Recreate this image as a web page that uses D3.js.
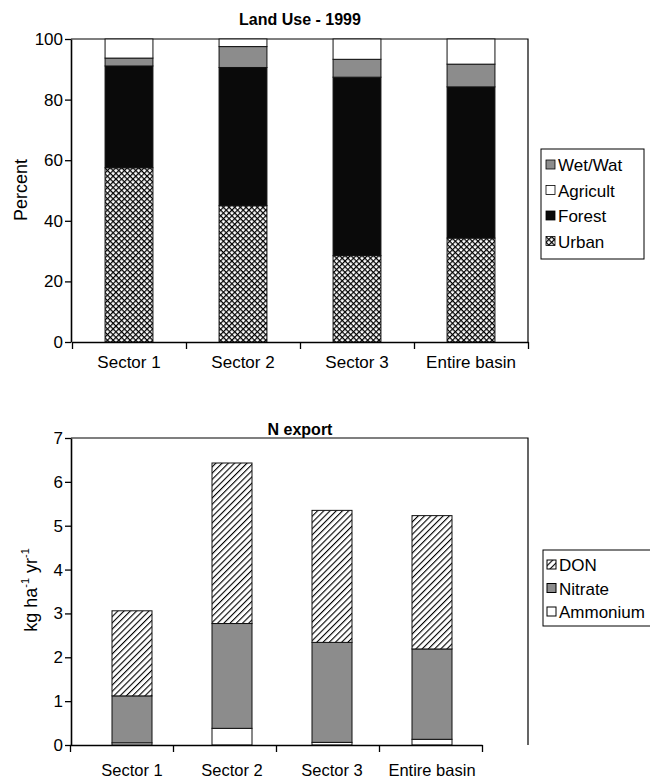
<!DOCTYPE html>
<html>
<head>
<meta charset="utf-8">
<script src="https://cdn.jsdelivr.net/npm/d3@7"></script>
<style>
  body { margin: 0; background: #fff; }
  text { font-family: "Liberation Sans", Arial, sans-serif; fill: #000; }
</style>
</head>
<body>
<script>
// chart data
var sectors = ["Sector 1", "Sector 2", "Sector 3", "Entire basin"];

var urban = [57.5, 45.0, 28.5, 34.3];
var forest = [33.6, 45.6, 58.9, 49.9];
var wetWat = [2.6, 6.9, 5.9, 7.5];
var agricult = [6.3, 2.5, 6.7, 8.3];

var ammonium = [0.05, 0.38, 0.06, 0.13];
var nitrate = [1.07, 2.39, 2.28, 2.06];
var don = [1.94, 3.66, 3.01, 3.04];

var percentTicks = [0, 20, 40, 60, 80, 100];
var exportTicks = [0, 1, 2, 3, 4, 5, 6, 7];

var width = 650, height = 781;
var fontFam = "'Liberation Sans', Arial, sans-serif";

var svg = d3.select("body").append("svg")
  .attr("width", width)
  .attr("height", height);

// fill patterns
var defs = svg.append("defs");
var cross = defs.append("pattern")
  .attr("id", "cross")
  .attr("patternUnits", "userSpaceOnUse")
  .attr("width", 4).attr("height", 4)
  .attr("patternTransform", "rotate(45)");
cross.append("rect").attr("width", 4).attr("height", 4).attr("fill", "#fff");
cross.append("path").attr("d", "M0,0V4M0,0H4").attr("stroke", "#000").attr("stroke-width", 2.4);

var hatch = defs.append("pattern")
  .attr("id", "hatch")
  .attr("patternUnits", "userSpaceOnUse")
  .attr("width", 4.4).attr("height", 4.4)
  .attr("patternTransform", "rotate(45)");
hatch.append("rect").attr("width", 4.4).attr("height", 4.4).attr("fill", "#fff");
hatch.append("path").attr("d", "M0,0V4.4").attr("stroke", "#000").attr("stroke-width", 2.2);

function stackRows(series) {
  return sectors.map(function (s, i) {
    var row = { sector: s };
    series.forEach(function (d) { row[d.key] = d.values[i]; });
    return row;
  });
}

// ---------- top chart: land use ----------
var landSeries = [
  { key: "Urban", values: urban, fill: "url(#cross)" },
  { key: "Forest", values: forest, fill: "#0a0a0a" },
  { key: "Wet/Wat", values: wetWat, fill: "#8c8c8c" },
  { key: "Agricult", values: agricult, fill: "#fff" }
];

var t = { left: 71, right: 528, top: 39, bottom: 342 };

var xTop = d3.scaleBand().domain(sectors).range([t.left + 1, t.right])
  .paddingInner(0.58).paddingOuter(0.29);
var xTopTicks = d3.scaleLinear().domain([0, 4]).range([t.left + 1, t.right]);
var yTop = d3.scaleLinear().domain([0, 100]).range([t.bottom, t.top]);

var topG = svg.append("g");

topG.append("path")
  .attr("d", "M" + t.left + "," + t.top + "H" + t.right + "V" + t.bottom)
  .attr("fill", "none").attr("stroke", "#000").attr("stroke-width", 1.2);

var landStack = d3.stack().keys(landSeries.map(function (d) { return d.key; }))(stackRows(landSeries));

topG.selectAll("g.layer").data(landStack).enter().append("g")
  .attr("fill", function (d, i) { return landSeries[i].fill; })
  .selectAll("rect").data(function (d) { return d; }).enter().append("rect")
  .attr("x", function (d) { return xTop(d.data.sector); })
  .attr("width", xTop.bandwidth())
  .attr("y", function (d) { return yTop(d[1]); })
  .attr("height", function (d) { return yTop(d[0]) - yTop(d[1]); })
  .attr("stroke", "#111").attr("stroke-width", 1);

topG.append("g")
  .attr("transform", "translate(" + t.left + ",0)")
  .call(d3.axisLeft(yTop).tickValues(percentTicks).tickSize(6).tickPadding(2).tickSizeOuter(0))
  .call(styleAxis);

topG.append("g")
  .attr("transform", "translate(0," + t.bottom + ")")
  .call(d3.axisBottom(xTopTicks).tickValues([0, 1, 2, 3, 4]).tickFormat("").tickSize(7).tickSizeOuter(0))
  .call(styleAxis);

topG.selectAll("text.xlab").data(sectors).enter().append("text")
  .attr("x", function (d) { return xTop(d) + xTop.bandwidth() / 2; })
  .attr("y", 368)
  .attr("text-anchor", "middle")
  .style("font-size", "17px")
  .text(function (d) { return d; });

svg.append("text")
  .attr("x", 300).attr("y", 25)
  .attr("text-anchor", "middle")
  .style("font-size", "16px").style("font-weight", "bold")
  .text("Land Use - 1999");

svg.append("text")
  .attr("transform", "translate(27,190) rotate(-90)")
  .attr("text-anchor", "middle")
  .style("font-size", "18px")
  .text("Percent");

// legend top
var leg1 = svg.append("g");
leg1.append("rect")
  .attr("x", 541).attr("y", 149).attr("width", 103).attr("height", 110)
  .attr("fill", "#fff").attr("stroke", "#000").attr("stroke-width", 1);
var leg1Items = landSeries.slice().reverse();
leg1Items = [leg1Items[1], leg1Items[0], leg1Items[2], leg1Items[3]];
leg1.selectAll("g.item").data(leg1Items).enter().append("g")
  .attr("transform", function (d, i) { return "translate(546," + (165 + i * 25.5) + ")"; })
  .each(function (d) {
    var g = d3.select(this);
    g.append("rect").attr("x", 0).attr("y", -5).attr("width", 9).attr("height", 9)
      .attr("fill", d.fill).attr("stroke", "#000").attr("stroke-width", 0.8);
    g.append("text").attr("x", 12).attr("y", 6).style("font-size", "17px").text(d.key);
  });

// ---------- bottom chart: N export ----------
var nSeries = [
  { key: "Ammonium", values: ammonium, fill: "#fff" },
  { key: "Nitrate", values: nitrate, fill: "#8c8c8c" },
  { key: "DON", values: don, fill: "url(#hatch)" }
];

var b = { left: 71, right: 528, axisRight: 482, top: 438, bottom: 745 };

var xBot = d3.scaleBand().domain(sectors).range([82, b.axisRight])
  .paddingInner(0.6).paddingOuter(0.3);
var xBotTicks = d3.scaleLinear().domain([0, 4]).range([b.left - 1, b.axisRight]);
var yBot = d3.scaleLinear().domain([0, 7]).range([b.bottom, b.top]);

var botG = svg.append("g");

botG.append("path")
  .attr("d", "M" + b.left + "," + b.top + "H" + b.right + "V" + b.bottom)
  .attr("fill", "none").attr("stroke", "#000").attr("stroke-width", 1.2);

var nStack = d3.stack().keys(nSeries.map(function (d) { return d.key; }))(stackRows(nSeries));

botG.selectAll("g.layer").data(nStack).enter().append("g")
  .attr("fill", function (d, i) { return nSeries[i].fill; })
  .selectAll("rect").data(function (d) { return d; }).enter().append("rect")
  .attr("x", function (d) { return xBot(d.data.sector); })
  .attr("width", xBot.bandwidth())
  .attr("y", function (d) { return yBot(d[1]); })
  .attr("height", function (d) { return yBot(d[0]) - yBot(d[1]); })
  .attr("stroke", "#111").attr("stroke-width", 1);

botG.append("g")
  .attr("transform", "translate(" + b.left + ",0)")
  .call(d3.axisLeft(yBot).tickValues(exportTicks).tickFormat(d3.format("d"))
    .tickSize(6).tickPadding(2).tickSizeOuter(0))
  .call(styleAxis);

botG.append("g")
  .attr("transform", "translate(0," + b.bottom + ")")
  .call(d3.axisBottom(xBotTicks).tickValues([0, 1, 2, 3, 4]).tickFormat("").tickSize(7).tickSizeOuter(0))
  .call(styleAxis);

botG.selectAll("text.xlab").data(sectors).enter().append("text")
  .attr("x", function (d) { return xBot(d) + xBot.bandwidth() / 2; })
  .attr("y", 776)
  .attr("text-anchor", "middle")
  .style("font-size", "16.5px")
  .text(function (d) { return d; });

svg.append("text")
  .attr("x", 300).attr("y", 435)
  .attr("text-anchor", "middle")
  .style("font-size", "16px").style("font-weight", "bold")
  .text("N export");

var ylab = svg.append("text")
  .attr("transform", "translate(37,590) rotate(-90)")
  .attr("text-anchor", "middle")
  .style("font-size", "18px");
ylab.append("tspan").text("kg ha");
ylab.append("tspan").attr("dy", -8).style("font-size", "11px").text("-1");
ylab.append("tspan").attr("dy", 8).text(" yr");
ylab.append("tspan").attr("dy", -8).style("font-size", "11px").text("-1");

// legend bottom
var leg2 = svg.append("g");
leg2.append("rect")
  .attr("x", 543).attr("y", 550).attr("width", 110).attr("height", 76)
  .attr("fill", "#fff").attr("stroke", "#000").attr("stroke-width", 1);
leg2.selectAll("g.item").data(nSeries.slice().reverse()).enter().append("g")
  .attr("transform", function (d, i) { return "translate(547," + (565 + i * 23.5) + ")"; })
  .each(function (d) {
    var g = d3.select(this);
    g.append("rect").attr("x", 0).attr("y", -5).attr("width", 9).attr("height", 9)
      .attr("fill", d.fill).attr("stroke", "#000").attr("stroke-width", 1);
    g.append("text").attr("x", 12).attr("y", 6).style("font-size", "17px").text(d.key);
  });

function styleAxis(g) {
  g.select(".domain").attr("stroke", "#000").attr("stroke-width", 1.6);
  g.selectAll(".tick line").attr("stroke", "#000").attr("stroke-width", 1.3);
  g.selectAll(".tick text")
    .style("font-family", fontFam)
    .style("font-size", "17px")
    .attr("fill", "#000");
}
</script>
</body>
</html>
